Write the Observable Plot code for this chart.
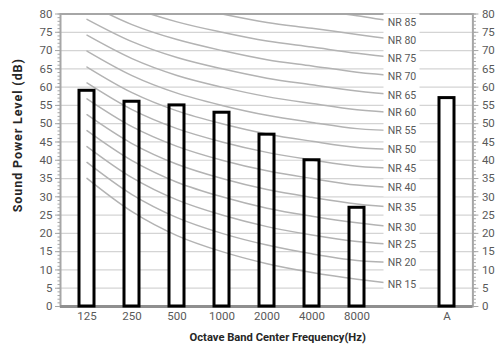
<!DOCTYPE html>
<html><head><meta charset="utf-8">
<script src="https://cdn.jsdelivr.net/npm/d3@7"></script>
<script src="https://cdn.jsdelivr.net/npm/@observablehq/plot@0.6"></script>
<style>body{margin:0;background:#fff} svg{display:block}</style>
</head><body><div id="chart"></div>
<script>
// x categories (the "NR" slot holds the curve labels and is left blank on the axis)
const categories = ["125","250","500","1000","2000","4000","8000","NR","A"];
const axisCategories = ["125","250","500","1000","2000","4000","8000","A"];

// measured sound power levels (dB)
const barCategories = ["125","250","500","1000","2000","4000","8000","A"];
const barLevels = [59, 56, 55, 53, 47, 40, 27, 57];

// NR curves: values at 125 … 8000 Hz, plus end point at the label slot
const curveCategories = ["125","250","500","1000","2000","4000","8000","NR"];
const nrNames = ["NR 15","NR 20","NR 25","NR 30","NR 35","NR 40","NR 45","NR 50","NR 55","NR 60","NR 65","NR 70","NR 75","NR 80","NR 85"];
const nr15 = [35.05, 25.95, 19.4, 15, 11.7, 9.3, 7.45, 6.0];
const nr20 = [39.4, 30.6, 24.3, 20, 16.8, 14.4, 12.6, 12.0];
const nr25 = [43.75, 35.25, 29.15, 25, 21.85, 19.55, 17.75, 16.8];
const nr30 = [48.1, 39.9, 34.0, 30, 26.9, 24.7, 22.9, 21.6];
const nr35 = [52.45, 44.55, 38.9, 35, 32.0, 29.85, 28.05, 27.0];
const nr40 = [56.8, 49.2, 43.8, 40, 37.1, 35.0, 33.2, 32.4];
const nr45 = [61.15, 53.85, 48.65, 45, 42.15, 40.1, 38.35, 37.8];
const nr50 = [65.5, 58.5, 53.5, 50, 47.2, 45.2, 43.5, 42.9];
const nr55 = [69.85, 63.15, 58.35, 55, 52.3, 50.35, 48.65, 48.0];
const nr60 = [74.2, 67.8, 63.2, 60, 57.4, 55.5, 53.8, 52.9];
const nr65 = [78.55, 72.45, 68.1, 65, 62.45, 60.65, 58.95, 57.8];
const nr70 = [82.9, 77.1, 73.0, 70, 67.5, 65.8, 64.1, 63.0];
const nr75 = [87.25, 81.75, 77.85, 75, 72.6, 70.95, 69.25, 67.9];
const nr80 = [91.6, 86.4, 82.7, 80, 77.7, 76.1, 74.4, 72.8];
const nr85 = [95.95, 91.05, 87.6, 85, 82.75, 81.2, 79.55, 77.6];
const nrSeries = [nr15, nr20, nr25, nr30, nr35, nr40, nr45, nr50, nr55, nr60, nr65, nr70, nr75, nr80, nr85];

// axis ticks
const yTicks = [0,5,10,15,20,25,30,35,40,45,50,55,60,65,70,75,80];
const yGrid = [5,10,15,20,25,30,35,40,45,50,55,60,65,70,75];
const yMinor = d3.range(0, 81, 1);

const xTitle = "Octave Band Center Frequency(Hz)";
const yTitle = "Sound Power Level (dB)";

// tables for the library
const bars = barCategories.map((c, i) => ({cat: c, v: barLevels[i]}));
const curves = nrNames.flatMap((n, j) => curveCategories.map((c, i) => ({name: n, cat: c, v: nrSeries[j][i]})));
const labels = nrNames.map((n, j) => ({name: n, cat: "NR", v: nrSeries[j][nrSeries[j].length - 1]}));

const tickColor = "#a6a6a6";
const textColor = "#595959";

const chart = Plot.plot({
  width: 497, height: 349,
  marginLeft: 60, marginRight: 24.6, marginTop: 13.5, marginBottom: 43,
  style: {fontFamily: "Roboto, sans-serif", background: "white"},
  x: {domain: categories, padding: 0, axis: null},
  y: {domain: [0, 80], axis: null},
  marks: [
    Plot.ruleY(yGrid, {stroke: "#d4d4d4", strokeWidth: 1.2}),
    Plot.barY(bars, {x: "cat", y: "v", fill: "white", insetLeft: 15, insetRight: 15}),
    Plot.line(curves, {x: "cat", y: "v", z: "name", stroke: "#b3b3b3", strokeWidth: 1.5, curve: "catmull-rom", clip: true}),
    Plot.frame({stroke: tickColor, strokeWidth: 2}),
    Plot.ruleY([0], {stroke: "#8f8f8f", strokeWidth: 3}),
    Plot.barY(bars, {x: "cat", y: "v", fill: "none", stroke: "black", strokeWidth: 3, insetLeft: 15, insetRight: 15}),
    Plot.barY(labels, {x: "cat", y1: d => d.v - 2.45, y2: d => d.v + 2.45, fill: "white", insetLeft: 4.5, insetRight: 4.5}),
    Plot.text(labels, {x: "cat", y: "v", text: "name", fill: textColor, fontSize: 10.5}),
    // left axis
    Plot.axisY(yMinor, {anchor: "left", tickSize: 2.5, text: null, stroke: tickColor, label: null}),
    Plot.axisY(yTicks, {anchor: "left", tickSize: 5, text: null, stroke: tickColor, label: null}),
    Plot.axisY(yTicks, {anchor: "left", tickSize: 0, tickPadding: 8, fill: textColor, fontSize: 11.5, label: null}),
    // right axis
    Plot.axisY(yMinor, {anchor: "right", tickSize: 2.5, text: null, stroke: tickColor, label: null}),
    Plot.axisY(yTicks, {anchor: "right", tickSize: 5, text: null, stroke: tickColor, label: null}),
    Plot.axisY(yTicks, {anchor: "right", tickSize: 0, tickPadding: 9, fill: textColor, fontSize: 11.5, label: null}),
    // x axis labels
    Plot.axisX(axisCategories, {anchor: "bottom", tickSize: 0, tickPadding: 5, fill: textColor, fontSize: 11.5, label: null}),
    // titles
    Plot.text([xTitle], {frameAnchor: "bottom", textAnchor: "middle", lineAnchor: "middle", dx: 11, dy: 31, fontWeight: "bold", fontSize: 11.2, fill: "#262626"}),
    Plot.text([yTitle], {frameAnchor: "left", textAnchor: "middle", lineAnchor: "middle", rotate: -90, dx: -43, dy: -25, fontWeight: "bold", fontSize: 12.5, fill: "#262626"})
  ]
});
d3.select(chart).selectAll("text").filter(function() { return this.textContent === yTitle; }).attr("letter-spacing", "0.9px");
document.getElementById("chart").append(chart);
</script>
</body></html>
